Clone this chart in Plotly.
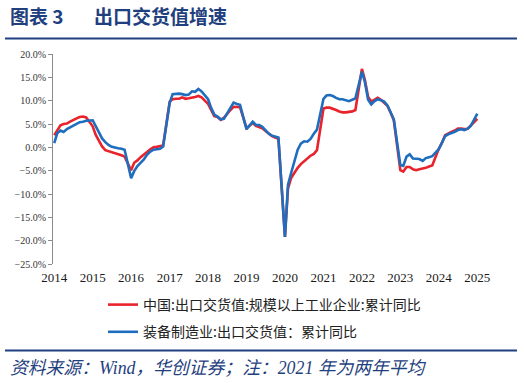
import plotly.graph_objects as go

# ---- data (cumulative YoY, %), monthly Feb..Dec each year (Jan merged into Feb), 2014-02 .. 2025-02
years = list(range(2014, 2026))
year_labels = [str(y) for y in years]

red_name = "中国:出口交货值:规模以上工业企业:累计同比"
blue_name = "装备制造业:出口交货值：累计同比"

red_values = [
    2.6, 3.7, 4.7, 5.0, 5.1, 5.5, 5.9, 6.2, 6.5, 6.6, 6.4,          # 2014
    4.5, 2.7, 1.4, 0.2, -0.6, -0.8, -1.0, -1.2, -1.4, -1.7, -2.0,   # 2015
    -4.9, -3.3, -2.8, -2.1, -1.6, -1.0, -0.4, 0.0, 0.1, 0.2, 0.4,   # 2016
    9.8, 10.3, 10.4, 10.4, 10.7, 10.4, 10.5, 10.6, 10.8, 11.0, 10.7,  # 2017
    9.3, 8.0, 6.7, 6.5, 5.9, 6.3, 7.2, 8.0, 8.7, 8.7, 8.6,          # 2018
    4.1, 4.7, 5.2, 4.6, 4.4, 4.1, 3.5, 2.9, 2.4, 2.1, 1.8,          # 2019
    -19.2, -8.8, -6.5, -5.4, -4.4, -3.6, -3.0, -2.3, -1.8, -1.4, -0.6,  # 2020
    8.3, 8.5, 8.5, 8.3, 8.0, 7.7, 7.5, 7.5, 7.6, 7.7, 8.0,          # 2021
    16.8, 14.5, 10.8, 9.8, 10.3, 10.6, 10.2, 9.6, 8.9, 7.4, 5.8,    # 2022
    -4.9, -5.2, -4.2, -4.2, -4.7, -4.9, -4.7, -4.6, -4.4, -4.1, -3.9,  # 2023
    -0.3, 0.9, 2.6, 3.0, 3.3, 3.6, 4.0, 4.0, 3.9, 4.0, 4.7,         # 2024
    6.1,                                                            # 2025
]

blue_values = [
    0.9, 3.0, 3.6, 3.3, 3.9, 4.3, 4.6, 5.1, 5.4, 5.5, 5.7,          # 2014
    5.8, 4.6, 3.2, 1.9, 1.1, 0.5, 0.1, -0.1, -0.2, -0.3, -0.5,      # 2015
    -6.6, -5.1, -4.0, -3.3, -2.6, -1.6, -0.9, -0.5, -0.4, -0.3, 0.2,  # 2016
    9.5, 11.4, 11.5, 11.5, 11.4, 11.2, 11.3, 12.0, 11.9, 12.5, 12.0,  # 2017
    10.3, 8.5, 7.0, 6.6, 6.0, 6.1, 7.2, 8.4, 9.6, 9.3, 9.1,         # 2018
    3.9, 4.6, 5.5, 4.8, 4.8, 4.4, 3.7, 2.9, 2.5, 2.3, 2.1,          # 2019
    -19.2, -8.0, -5.4, -2.8, -0.5, 0.8, 1.3, 1.2, 1.8, 2.9, 3.8,    # 2020
    10.4, 11.1, 11.2, 11.0, 10.6, 10.3, 10.3, 10.1, 9.9, 10.2, 10.5,  # 2021
    16.2, 14.0, 10.2, 9.2, 9.9, 10.3, 10.1, 9.8, 9.0, 7.6, 6.0,     # 2022
    -3.8, -4.0, -2.0, -1.5, -2.4, -2.4, -2.5, -2.9, -2.3, -2.1, -1.9,  # 2023
    -0.4, 0.9, 2.4, 2.8, 3.0, 3.3, 3.7, 3.9, 3.7, 4.0, 4.6,         # 2024
    7.2,                                                            # 2025
]

months = [f"{y}-{m:02d}-01" for y in range(2014, 2025) for m in range(2, 13)] + ["2025-02-01"]
tick_dates = [f"{y}-02-01" for y in years]

RED = "#E8232B"
BLUE = "#1F6DBE"
NAVY = "#1F3F7E"
AXIS = "#8C8C8C"
SERIF = "Liberation Serif, Times New Roman, serif"
CJK = "Noto Sans CJK SC"

fig = go.Figure()
fig.add_trace(go.Scatter(x=months, y=red_values, mode="lines", name=red_name,
                         line=dict(color=RED, width=2.6), legendgroup="a"))
fig.add_trace(go.Scatter(x=months, y=blue_values, mode="lines", name=blue_name,
                         line=dict(color=BLUE, width=2.6), legendgroup="b"))

x_range = ["2014-01-20", "2025-12-18"]

fig.update_layout(
    width=524, height=383,
    margin=dict(l=53, r=13, t=54, b=119, autoexpand=False),
    paper_bgcolor="white", plot_bgcolor="white",
    showlegend=True,
    legend=dict(
        xref="container", yref="container",
        x=103 / 524, y=1 - 289 / 383, xanchor="left", yanchor="top",
        orientation="v", tracegroupgap=6,
        font=dict(family=CJK, size=14, color="#222222"),
        bgcolor="rgba(0,0,0,0)",
    ),
    xaxis=dict(
        type="date", range=x_range,
        tickvals=tick_dates, ticktext=year_labels,
        showline=False, ticks="", showgrid=False, zeroline=False,
        tickfont=dict(family=SERIF, size=13, color="#1a1a1a"),
        ticklabelstandoff=4,
    ),
    xaxis2=dict(
        type="date", range=x_range, matches="x", overlaying="x",
        anchor="free", position=25 / 45,
        tickvals=tick_dates, showticklabels=False,
        showline=True, linecolor=AXIS, linewidth=1,
        ticks="outside", ticklen=4, tickcolor=AXIS, showgrid=False, zeroline=False,
    ),
    yaxis=dict(
        range=[-25, 20], dtick=5, tick0=0,
        tickformat=".1f", ticksuffix="%",
        showline=True, linecolor=AXIS, linewidth=1,
        ticks="outside", ticklen=4, tickcolor=AXIS,
        showgrid=False, zeroline=False,
        tickfont=dict(family=SERIF, size=10, color="#333333"),
    ),
)


def px_x(px):
    return (px - 53) / 458


def px_y(py):
    return (264 - py) / 210


fig.add_annotation(text="<b>图表 3</b>", xref="paper", yref="paper",
                   x=px_x(8), y=px_y(15), xanchor="left", yanchor="middle",
                   showarrow=False, font=dict(family=CJK, size=19, color=NAVY))
fig.add_annotation(text="<b>出口交货值增速</b>", xref="paper", yref="paper",
                   x=px_x(92), y=px_y(15), xanchor="left", yanchor="middle",
                   showarrow=False, font=dict(family=CJK, size=19, color=NAVY))
fig.add_annotation(text="<i>资料来源：Wind，华创证券；注：2021 年为两年平均</i>",
                   xref="paper", yref="paper",
                   x=px_x(8), y=px_y(368), xanchor="left", yanchor="middle",
                   showarrow=False, font=dict(family="Liberation Serif, " + CJK, size=17.8, color=NAVY))

for py in (38.5, 350.5):
    fig.add_shape(type="line", xref="paper", yref="paper",
                  x0=px_x(5), x1=px_x(517), y0=px_y(py), y1=px_y(py),
                  line=dict(color=NAVY, width=2))

fig.write_html("out.html",
               config={"displayModeBar": False},
               post_script="document.body.style.margin='0px';document.body.style.overflow='hidden';")
